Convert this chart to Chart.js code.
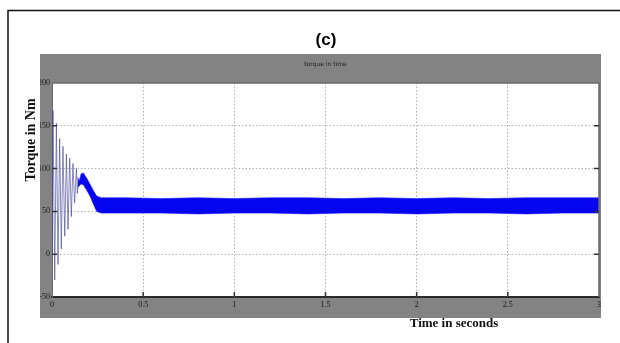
<!DOCTYPE html>
<html>
<head>
<meta charset="utf-8">
<script src="https://cdn.jsdelivr.net/npm/chart.js@4.4.1/dist/chart.umd.min.js"></script>
<style>
  body { margin: 0; background: #fff; }
  canvas { display: block; }
</style>
</head>
<body>
<canvas id="torque" width="620" height="343"></canvas>
<script>
// start-up oscillation (seconds, Nm)
const oscTime = [0, 0.0055, 0.015, 0.024, 0.033, 0.042, 0.051, 0.060, 0.070, 0.079, 0.088, 0.097, 0.106, 0.115, 0.124, 0.134, 0.139, 0.145];
const oscTorque = [0, 168, -30, 153, -12, 135, 6, 126, 21, 117, 29, 112, 44, 106, 60, 100, 71, 86];

// thick ripple band: upper / lower envelope
const bandTime = [0.14, 0.15, 0.16, 0.172, 0.19, 0.208, 0.228, 0.245, 0.27, 0.4, 0.6, 0.8, 1.0, 1.2, 1.4, 1.6, 1.8, 2.0, 2.2, 2.4, 2.6, 2.8, 3.0];
const bandUpper = [90, 86, 94, 95, 89, 82, 74, 68, 66, 66, 65, 66, 65, 66, 66, 65, 66, 65, 66, 65, 66, 66, 66];
const bandLower = [78, 80, 82, 81, 75, 68, 58, 50, 48, 48, 48, 47, 48, 48, 47, 48, 48, 47, 48, 48, 47, 48, 48];

const xTicks = [0, 0.5, 1, 1.5, 2, 2.5, 3];
const yTicks = [-50, 0, 50, 100, 150, 200];

const toPoints = (xs, ys) => xs.map((x, i) => ({ x: x, y: ys[i] }));

const panelGray = "#838383";

const framePlugin = {
    id: "frame",
    beforeDraw(chart) {
        const ctx = chart.ctx;
        const a = chart.chartArea;
        ctx.save();
        ctx.fillStyle = "#fff";
        ctx.fillRect(0, 0, chart.width, chart.height);
        // outer frame
        ctx.strokeStyle = "#111";
        ctx.lineWidth = 1.5;
        ctx.strokeRect(8, 10.5, 640, 400);
        // matlab grey panel
        ctx.fillStyle = panelGray;
        ctx.fillRect(40, 54, 561, 264);
        ctx.fillStyle = "#fff";
        ctx.fillRect(a.left, a.top, a.right - a.left, a.bottom - a.top);
        // title
        ctx.fillStyle = "#000";
        ctx.font = "bold 17px 'Liberation Sans', Arial";
        ctx.textAlign = "center";
        ctx.textBaseline = "middle";
        ctx.fillText("(c)", 326, 40);
        ctx.fillStyle = "#222";
        ctx.font = "6px 'DejaVu Sans'";
        ctx.fillText("torque in time", (a.left + a.right) / 2, 64);
        ctx.restore();
    },
    afterDatasetsDraw(chart) {
        const ctx = chart.ctx;
        const a = chart.chartArea;
        const xs = chart.scales.x;
        const ys = chart.scales.y;
        ctx.save();
        ctx.strokeStyle = "#6a6a6a";
        ctx.lineWidth = 1.5;
        ctx.beginPath();
        ctx.moveTo(a.left, a.top);
        ctx.lineTo(a.right, a.top);
        ctx.lineTo(a.right, a.bottom);
        ctx.stroke();
        // inner tick marks
        ctx.strokeStyle = "#333";
        ctx.lineWidth = 1.5;
        ctx.beginPath();
        yTicks.slice(1, -1).forEach((v) => {
            const py = ys.getPixelForValue(v);
            ctx.moveTo(a.left, py); ctx.lineTo(a.left + 5, py);
            ctx.moveTo(a.right, py); ctx.lineTo(a.right - 5, py);
        });
        xTicks.slice(1, -1).forEach((v) => {
            const px = xs.getPixelForValue(v);
            ctx.moveTo(px, a.bottom); ctx.lineTo(px, a.bottom - 5);
        });
        ctx.stroke();
        ctx.restore();
    },
    afterDraw(chart) {
        const ctx = chart.ctx;
        ctx.save();
        ctx.fillStyle = "#111";
        ctx.textAlign = "center";
        ctx.textBaseline = "middle";
        ctx.font = "bold 13px 'Liberation Serif', 'Times New Roman'";
        ctx.fillText("Time in seconds", 454, 324);
        ctx.translate(31, 140);
        ctx.rotate(-Math.PI / 2);
        ctx.font = "bold 14px 'Liberation Serif', 'Times New Roman'";
        ctx.fillText("Torque in Nm", 0, 0);
        ctx.restore();
    },
};

// no grid line on the frame edges
const gridColor = (ctx) =>
    ctx.index === 0 || ctx.index === ctx.scale.ticks.length - 1 ? "rgba(0,0,0,0)" : "#b4b4b4";

new Chart(document.getElementById("torque"), {
    type: "line",
    data: {
        datasets: [
            {
                data: toPoints(oscTime, oscTorque),
                borderColor: "rgba(60,60,150,0.6)",
                borderWidth: 1,
                pointRadius: 0,
                tension: 0,
            },
            {
                data: toPoints(bandTime, bandUpper),
                borderColor: "rgba(40,40,255,0.6)",
                borderWidth: 1,
                backgroundColor: "rgb(5,5,240)",
                pointRadius: 0,
                fill: "+1",
                tension: 0,
            },
            {
                data: toPoints(bandTime, bandLower),
                borderColor: "rgba(40,40,255,0.6)",
                borderWidth: 1,
                pointRadius: 0,
                fill: false,
                tension: 0,
            },
        ],
    },
    options: {
        responsive: false,
        animation: false,
        layout: { padding: { left: 40, top: 83, right: 21, bottom: 25 } },
        plugins: {
            legend: { display: false },
            tooltip: { enabled: false },
        },
        scales: {
            x: {
                type: "linear",
                min: 0,
                max: 3,
                afterBuildTicks: (s) => { s.ticks = xTicks.map((v) => ({ value: v })); },
                afterFit: (s) => { s.height = 21; },
                ticks: {
                    color: "#1a1a1a",
                    font: { family: "'Liberation Serif'", size: 8 },
                    padding: 3,
                    maxRotation: 0,
                    callback: (v) => String(v),
                },
                grid: { color: gridColor, drawTicks: false },
                border: { display: true, color: "#2a2a2a", width: 2, dash: [1.5, 2] },
            },
            y: {
                min: -50,
                max: 200,
                afterBuildTicks: (s) => { s.ticks = yTicks.map((v) => ({ value: v })); },
                afterFit: (s) => { s.width = 12; },
                ticks: {
                    color: "#1a1a1a",
                    font: { family: "'Liberation Serif'", size: 8 },
                    padding: 2,
                },
                grid: { color: gridColor, drawTicks: false },
                border: { display: true, color: "#6a6a6a", width: 1, dash: [1.5, 2] },
            },
        },
    },
    plugins: [framePlugin],
});
</script>
</body>
</html>
